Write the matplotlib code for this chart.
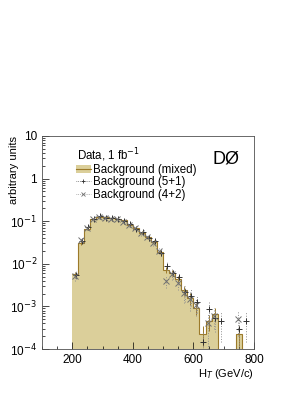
import matplotlib
matplotlib.use('Agg')
import matplotlib.pyplot as plt
import numpy as np
from matplotlib.patches import Patch
from matplotlib.lines import Line2D
from matplotlib.ticker import LogLocator, MultipleLocator, NullFormatter

plt.rcParams['font.family'] = ['Liberation Sans', 'DejaVu Sans']

# H_T bins (GeV/c), 20 GeV wide
edges = np.arange(200, 801, 20)

# background (mixed) histogram
mixed = [0.0058, 0.031, 0.067, 0.112, 0.126, 0.123, 0.117, 0.113, 0.104, 0.083,
         0.069, 0.054, 0.042, 0.033, 0.019, 0.0073, 0.0062, 0.0044, 0.0024, 0.0016,
         0.00092, 0.00023, 0.00045, 0.00068, 0, 0, 0, 0.00023, 0, 0]
mixed_err = [0.0008, 0.003, 0.005, 0.007, 0.008, 0.008, 0.007, 0.007, 0.007, 0.006,
             0.005, 0.004, 0.004, 0.003, 0.002, 0.0012, 0.0011, 0.0008, 0.0006, 0.0005,
             0.0003, 0.00012, 0.00018, 0.00025, 0, 0, 0, 0.00012, 0, 0]

# background (5+1), "+" markers
b51 = [0.0055, 0.034, 0.072, 0.11, 0.13, 0.118, 0.12, 0.11, 0.10, 0.085,
       0.066, 0.056, 0.040, 0.034, 0.018, 0.0091, 0.0060, 0.0048, 0.0022, 0.0018,
       0.0013, 0.00015, 0.00085, 0.00055, 0.00045, 0, 0, 0.00030, 0.00045, 0]
b51_err = [0.0012, 0.004, 0.007, 0.009, 0.010, 0.010, 0.010, 0.009, 0.009, 0.008,
           0.007, 0.006, 0.005, 0.004, 0.003, 0.002, 0.0016, 0.0013, 0.0009, 0.0008,
           0.0006, 0.0001, 0.0004, 0.0003, 0.0003, 0, 0, 0.0002, 0.0003, 0]

# background (4+2), "x" markers
b42 = [0.0052, 0.036, 0.070, 0.11, 0.125, 0.12, 0.115, 0.112, 0.098, 0.080,
       0.068, 0.052, 0.043, 0.030, 0.020, 0.0039, 0.0058, 0.0036, 0.0021, 0.0015,
       0.0011, 0, 0.00040, 0.00060, 0, 0, 0, 0.00050, 0, 0]
b42_err = [0.0012, 0.004, 0.007, 0.009, 0.010, 0.010, 0.010, 0.009, 0.009, 0.008,
           0.007, 0.006, 0.005, 0.004, 0.003, 0.0012, 0.0016, 0.0012, 0.0009, 0.0007,
           0.0005, 0, 0.0003, 0.0003, 0, 0, 0, 0.0003, 0, 0]

fill_col = '#dbcf9a'
line_col = '#9c7a2a'

fig = plt.figure(figsize=(2.93, 3.94), dpi=100)
ax = fig.add_axes([0.143, 0.114, 0.724, 0.541])

centers = 0.5 * (edges[:-1] + edges[1:])
mixed = np.array(mixed)
ax.stairs(mixed, edges, fill=True, color=fill_col, baseline=1e-5)
ax.stairs(mixed, edges, color=line_col, lw=0.8, baseline=None)
m = mixed > 0
ax.errorbar(centers[m], mixed[m], yerr=np.array(mixed_err)[m], fmt='none',
            ecolor=line_col, elinewidth=0.7)

for vals, errs, mk, col, dx in [(b51, b51_err, '+', '#303030', 2),
                                (b42, b42_err, 'x', '#707070', -2)]:
    v = np.array(vals)
    e = np.array(errs)
    k = v > 0
    eb = ax.errorbar(centers[k] + dx, v[k], yerr=e[k], fmt=mk, color=col, ms=4.5,
                     mew=0.7, ecolor='#909090', elinewidth=0.7)
    eb[2][0].set_linestyle(':')

ax.set_yscale('log')
ax.set_xlim(100, 800)
ax.set_ylim(1e-4, 10)
ax.xaxis.set_major_locator(MultipleLocator(200))
ax.xaxis.set_minor_locator(MultipleLocator(50))
ax.yaxis.set_minor_locator(LogLocator(base=10, subs=np.arange(2, 10), numticks=20))
ax.yaxis.set_minor_formatter(NullFormatter())
ax.set_yticks([1e-4, 1e-3, 1e-2, 1e-1, 1, 10])
ax.set_yticklabels(['10$^{-4}$', '10$^{-3}$', '10$^{-2}$', '10$^{-1}$', '1', '10'])
ax.tick_params(which='both', direction='in', labelsize=8.5, top=False, right=False)
ax.tick_params(which='major', length=5, width=0.5)
ax.tick_params(which='minor', length=2.5, width=0.5)
for s in ax.spines.values():
    s.set_linewidth(0.6)
    s.set_color('#505050')

ax.set_xlabel('H$_T$ (GeV/c)', fontsize=8, loc='right', labelpad=1)
ax.set_ylabel('arbitrary units', fontsize=8, loc='top')
ax.yaxis.set_label_coords(-0.11, 1.0)

ax.text(0.165, 0.95, 'Data, 1 fb$^{-1}$', transform=ax.transAxes, ha='left',
        va='top', fontsize=8.3)
handles = [(Patch(facecolor=fill_col, edgecolor='none'),
            Line2D([], [], color=line_col, lw=0.8)),
           Line2D([], [], color='#303030', marker='+', ms=3, mew=0.6, lw=0.5, ls=':'),
           Line2D([], [], color='#707070', marker='x', ms=2.5, mew=0.6, lw=0.5, ls=':')]
labels = ['Background (mixed)', 'Background (5+1)', 'Background (4+2)']
leg = ax.legend(handles, labels, loc='upper left', bbox_to_anchor=(0.16, 0.87),
                frameon=False, fontsize=8.3, handlelength=1.3, handletextpad=0.2,
                labelspacing=0.05, borderaxespad=0, borderpad=0)
ax.text(0.93, 0.93, 'DØ', transform=ax.transAxes, ha='right', va='top', fontsize=13)

fig.savefig('out.png', dpi=100)
